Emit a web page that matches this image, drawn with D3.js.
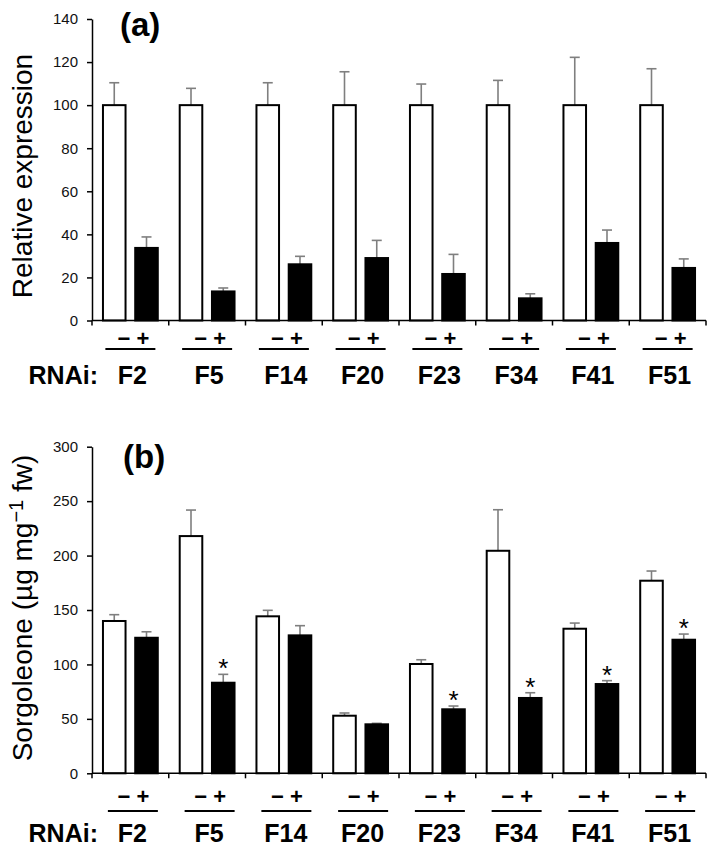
<!DOCTYPE html>
<html>
<head>
<meta charset="utf-8">
<script src="https://cdn.jsdelivr.net/npm/d3@7"></script>
<style>
  html, body { margin: 0; padding: 0; background: #fff; }
  svg { display: block; font-family: "Liberation Sans", Arial, sans-serif; }
</style>
</head>
<body>
<svg id="chart" width="709" height="858"></svg>
<script>
// ---- Data ----
const categories = ["F2", "F5", "F14", "F20", "F23", "F34", "F41", "F51"];
const treatments = ["-", "+"];

// Panel (a): relative expression
const exprControl    = [100, 100, 100, 100, 100, 100, 100, 100];
const exprControlErr = [10.4, 7.8, 10.4, 15.5, 9.8, 11.5, 22.2, 16.9];
const exprRNAi       = [33.7, 13.5, 26.1, 29.0, 21.6, 10.3, 36.0, 24.4];
const exprRNAiErr    = [5.1, 1.6, 3.7, 8.2, 9.1, 2.1, 6.0, 4.2];
const exprTicks      = [0, 20, 40, 60, 80, 100, 120, 140];

// Panel (b): sorgoleone content
const sorgControl    = [139.9, 217.9, 144.2, 52.9, 100.4, 204.4, 132.8, 176.9];
const sorgControlErr = [5.8, 23.9, 5.5, 2.5, 3.9, 37.7, 5.2, 8.9];
const sorgRNAi       = [124.5, 83.2, 126.7, 45.0, 58.8, 69.2, 82.0, 122.7];
const sorgRNAiErr    = [5.5, 7.7, 8.9, 0.9, 3.0, 4.8, 3.1, 5.2];
const sorgSignif     = [false, true, false, false, true, true, true, true];
const sorgTicks      = [0, 50, 100, 150, 200, 250, 300];

const svg = d3.select("#chart");

const x = d3.scaleBand().domain(categories).range([92, 706]).paddingInner(0).paddingOuter(0);
const xSub = d3.scaleBand().domain(treatments).range([0, x.bandwidth()]).paddingInner(0.3).paddingOuter(0.34);

function panel(opts) {
  const g = svg.append("g");
  const y = d3.scaleLinear().domain(opts.domain).range(opts.range);
  const errColor = "#7f7f7f";
  const capW = 10;

  const rows = categories.map((c, i) => ({
    cat: c,
    items: [
      { t: "-", v: opts.ctrl[i], e: opts.ctrlErr[i], sig: false },
      { t: "+", v: opts.rnai[i], e: opts.rnaiErr[i], sig: opts.sig ? opts.sig[i] : false }
    ]
  }));

  const grp = g.selectAll("g.cat").data(rows).join("g")
    .attr("class", "cat")
    .attr("transform", d => `translate(${x(d.cat)},0)`);

  // error bars (upper only)
  grp.selectAll("line.err").data(d => d.items).join("line")
    .attr("x1", d => xSub(d.t) + xSub.bandwidth() / 2)
    .attr("x2", d => xSub(d.t) + xSub.bandwidth() / 2)
    .attr("y1", d => y(d.v))
    .attr("y2", d => y(d.v + d.e))
    .attr("stroke", errColor).attr("stroke-width", 1.6);
  grp.selectAll("line.cap").data(d => d.items).join("line")
    .attr("x1", d => xSub(d.t) + xSub.bandwidth() / 2 - capW / 2)
    .attr("x2", d => xSub(d.t) + xSub.bandwidth() / 2 + capW / 2)
    .attr("y1", d => y(d.v + d.e))
    .attr("y2", d => y(d.v + d.e))
    .attr("stroke", errColor).attr("stroke-width", 1.6);

  grp.selectAll("rect").data(d => d.items).join("rect")
    .attr("x", d => xSub(d.t))
    .attr("width", xSub.bandwidth())
    .attr("y", d => y(d.v))
    .attr("height", d => y(0) - y(d.v))
    .attr("fill", d => d.t === "-" ? "#fff" : "#000")
    .attr("stroke", "#000").attr("stroke-width", 2);

  // significance stars
  grp.selectAll("text.star").data(d => d.items.filter(it => it.sig)).join("text")
    .attr("class", "star")
    .attr("x", d => xSub(d.t) + xSub.bandwidth() / 2)
    .attr("y", d => y(d.v + d.e) + 3)
    .attr("text-anchor", "middle")
    .attr("font-size", 26)
    .text("*");

  // y axis
  const yAxis = d3.axisLeft(y).tickValues(opts.ticks).tickSize(5).tickPadding(9).tickSizeOuter(0);
  const ya = g.append("g").attr("transform", "translate(92,0)").call(yAxis);
  ya.select(".domain").attr("stroke-width", 1.5);
  ya.selectAll(".tick line").attr("stroke-width", 1.5);
  ya.selectAll("text").attr("font-size", 15).attr("font-family", "Liberation Sans, Arial, sans-serif").attr("fill", "#111");

  // x axis baseline with ticks at group boundaries
  g.append("line").attr("x1", 92).attr("x2", x.range()[1]).attr("y1", y(0)).attr("y2", y(0))
    .attr("stroke", "#000").attr("stroke-width", 1.5);
  const bounds = categories.map(c => x(c)).concat([x.range()[1]]);
  g.selectAll("line.xt").data(bounds).join("line")
    .attr("x1", d => d).attr("x2", d => d)
    .attr("y1", y(0)).attr("y2", y(0) + 5)
    .attr("stroke", "#000").attr("stroke-width", 1.5);

  // "- +" labels & underline
  g.selectAll("text.pm").data(categories).join("text")
    .attr("x", d => x(d) + x.bandwidth() / 2 + 3)
    .attr("y", opts.pmY)
    .attr("text-anchor", "middle")
    .attr("font-size", 22).attr("font-weight", "bold")
    .attr("dominant-baseline", "central")
    .text("\u2212 +");
  g.selectAll("line.ul").data(categories).join("line")
    .attr("x1", d => x(d) + x.bandwidth() / 2 - 25 + opts.ulShift)
    .attr("x2", d => x(d) + x.bandwidth() / 2 + 25 + opts.ulShift)
    .attr("y1", opts.ulY).attr("y2", opts.ulY)
    .attr("stroke", "#000").attr("stroke-width", 2);

  // category labels
  g.selectAll("text.cat").data(categories).join("text")
    .attr("x", d => x(d) + x.bandwidth() / 2 + 2)
    .attr("y", opts.catY)
    .attr("text-anchor", "middle")
    .attr("font-size", 25).attr("font-weight", "bold")
    .text(d => d);
  g.append("text").attr("x", 98).attr("y", opts.catY)
    .attr("text-anchor", "end").attr("font-size", 25).attr("font-weight", "bold")
    .text("RNAi:");

  // panel letter
  g.append("text").attr("x", opts.letterX).attr("y", opts.letterY)
    .attr("font-size", 33).attr("font-weight", "bold").text(opts.letter);

  // y title
  const yt = g.append("text")
    .attr("transform", `translate(32,${opts.titleY}) rotate(-90)`)
    .attr("text-anchor", "middle")
    .attr("font-size", 28);
  opts.title(yt);
}

panel({
  domain: [0, 140], range: [320.5, 19],
  ctrl: exprControl, ctrlErr: exprControlErr, rnai: exprRNAi, rnaiErr: exprRNAiErr,
  ticks: exprTicks,
  pmY: 338, ulY: 349, ulShift: 0, catY: 384,
  letter: "(a)", letterX: 120, letterY: 36,
  titleY: 176,
  title: t => t.text("Relative expression")
});

panel({
  domain: [0, 300], range: [773.3, 446.7],
  ctrl: sorgControl, ctrlErr: sorgControlErr, rnai: sorgRNAi, rnaiErr: sorgRNAiErr, sig: sorgSignif,
  ticks: sorgTicks,
  pmY: 796, ulY: 811, ulShift: 2.5, catY: 842,
  letter: "(b)", letterX: 123, letterY: 468,
  titleY: 608,
  title: t => {
    t.append("tspan").text("Sorgoleone (\u00b5g mg");
    t.append("tspan").attr("font-size", 20).attr("dy", -9).text("\u22121");
    t.append("tspan").attr("dy", 9).text(" fw)");
  }
});
</script>
</body>
</html>
